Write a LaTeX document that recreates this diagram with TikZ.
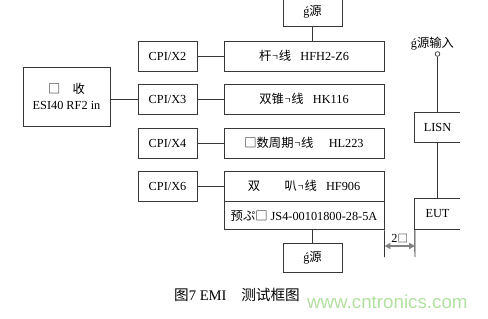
\documentclass[tikz,border=0pt]{standalone}
\usepackage{fontspec}
\setmainfont{Liberation Serif}
\newfontfamily\cjk{Noto Sans CJK SC}
\newfontfamily\wmfont{Liberation Sans}
\usetikzlibrary{arrows.meta, positioning, calc}
\definecolor{linegray}{RGB}{55,55,55}
\definecolor{wmgreen}{RGB}{178,224,160}
% garbled glyph as printed in the scan
\newcommand{\tn}{{\cjk\scriptsize ㄱ}}

\begin{document}
\begin{tikzpicture}[x=0.03cm, y=-0.03cm,
  box/.style={draw=linegray, line width=0.8pt, inner sep=0pt, align=center,
              font=\fontsize{10.5}{13}\selectfont},
  cpibox/.style={box, minimum width=1.77cm, minimum height=0.9cm},
  antbox/.style={box, minimum width=4.8cm, minimum height=0.9cm},
  pwrbox/.style={box, minimum width=1.77cm, minimum height=0.87cm},
  openbox/.style={inner sep=0pt, minimum width=1.35cm, minimum height=0.89cm,
                  font=\fontsize{10.5}{13}\selectfont},
  wire/.style={draw=linegray, line width=0.8pt},
  dimarrow/.style={{Triangle[length=5pt,width=5pt]}-{Triangle[length=5pt,width=5pt]},
                   draw=gray, line width=1.2pt},
  labelstyle/.style={font=\fontsize{10.5}{13}\selectfont, inner sep=1pt}
]
\useasboundingbox (0,0) rectangle (488,319);

% receiver and cables
\node[box, minimum width=2.61cm, minimum height=1.77cm] (rx) at (66.5,96.5)
  {{\cjk □\quad 收}\\ESI40 RF2 in};

\node[cpibox] (cpi2) at (167.5,56)  {CPI/X2};
\node[cpibox] (cpi3) at (167.5,99)  {CPI/X3};
\node[cpibox] (cpi4) at (167.5,143) {CPI/X4};
\node[cpibox] (cpi6) at (167.5,186) {CPI/X6};

% antennas
\node[antbox] (ant1) at (304,56)  {{\cjk 杆}\tn{\cjk 线}\enspace\ HFH2-Z6};
\node[antbox] (ant2) at (304,99)  {{\cjk 双锥}\tn{\cjk 线}\enspace\ HK116};
\node[antbox] (ant3) at (304,143) {{\cjk □数周期}\tn{\cjk 线}\quad\ HL223};
\node[antbox] (ant4) at (304,186) {{\cjk 双}\qquad{\cjk 叭}\tn{\cjk 线}\enspace\ HF906};
\node[antbox, minimum height=0.84cm, below=0pt of ant4] (preamp)
  {{\cjk 预ぷ□} JS4-00101800-28-5A};

% power supplies
\node[pwrbox] (pwrtop) at (312.5,11.5)  {ǵ{\cjk 源}};
\node[pwrbox] (pwrbot) at (312.5,257.5) {ǵ{\cjk 源}};

% LISN / EUT
\node[circle, draw=linegray, line width=0.6pt, inner sep=0pt, minimum size=4pt,
      fill=white] (pwrin) at (437.5,54) {};
\node[labelstyle] (pwrinlbl) at (432.5,44) {ǵ{\cjk 源输入}};
\node[openbox] (lisn) at (437.5,127.5) {LISN};
\node[openbox] (eut)  at (437.5,214)   {EUT};

\coordinate (antleg) at (384.5,257);
\coordinate (eutleg) at (415,257);
\coordinate (dimL) at (384.5,246);
\coordinate (dimR) at (415,246);

\draw[wire] (lisn.north east) -- (lisn.north west) -- (lisn.south west) -- (lisn.south east);
\draw[wire] (eut.north east) -- (eut.north west) -- (eut.south west) -- (eut.south east);

% connections
\draw[wire] (rx.east |- cpi3) -- (cpi3.west);
\draw[wire] (cpi2) -- (ant1);
\draw[wire] (cpi3) -- (ant2);
\draw[wire] (cpi4) -- (ant3);
\draw[wire] (cpi6) -- (ant4);

\draw[wire] (pwrtop.south) -- (pwrtop.south |- ant1.north);
\draw[wire] (pwrbot.north |- preamp.south) -- (pwrbot.north);

\draw[wire] (pwrin.south) -- (lisn.north);
\draw[wire] (lisn.south) -- (eut.north);
\draw[wire] (preamp.south east) -- (antleg);
\draw[wire] (eut.south west) -- (eutleg);

\draw[dimarrow] (dimL) -- node[labelstyle, above=1pt]{2{\cjk\small □}} (dimR);

% caption and watermark
\node[anchor=west, font=\fontsize{12.5}{15}\selectfont] (caption) at (170,295)
  {{\cjk 图}7 EMI\quad{\cjk 测试框图}};
\node[anchor=west, font=\wmfont\fontsize{16}{18}\selectfont, text=wmgreen] (wm)
  at (303,302) {www.cntronics.com};

\end{tikzpicture}
\end{document}
